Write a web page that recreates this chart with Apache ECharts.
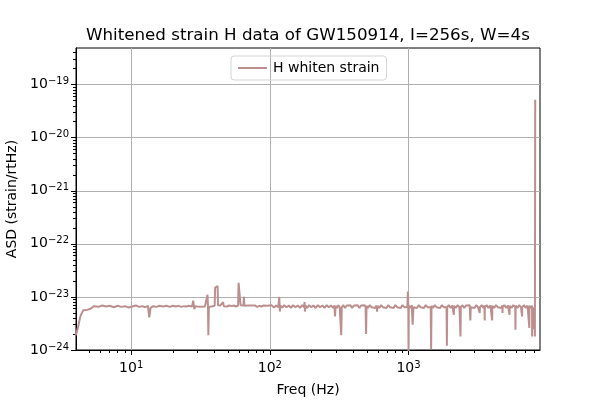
<!DOCTYPE html>
<html>
<head>
<meta charset="utf-8">
<script src="https://cdn.jsdelivr.net/npm/echarts@6/dist/echarts.min.js"></script>
<style>
  html, body { margin: 0; padding: 0; background: #fff; }
  #main { width: 600px; height: 400px; }
</style>
</head>
<body>
<div id="main"></div>
<script>
// frequency (Hz) and whitened ASD in units of 1e-24 strain/rtHz
var freq = [
  4, 4.15, 4.3, 4.5, 4.8, 5.1, 5.4, 5.8, 6.2, 6.6, 7.0, 7.5, 8.0, 8.5, 9.0, 9.6,
  10.2, 10.8, 11.4, 12, 12.6, 13.2, 13.5, 13.8, 14.4, 15.2, 16, 17, 18, 19, 20,
  21, 22, 23, 24, 25, 26, 27.5, 28, 28.5, 29, 30,
  31, 32, 33, 34, 35, 35.5, 35.8, 36, 36.3, 37, 38, 39, 40, 40.3, 41.5, 42, 42.3,
  43, 44, 45, 46, 46.5, 47.5, 49, 51, 53, 55, 57, 59, 59.5, 60.5, 61, 61.5,
  63, 64.5, 65, 65.5, 67, 69, 71, 73, 75, 78, 81, 84, 87, 90, 93, 96, 99,
  103, 107, 111, 115, 117, 118, 119, 123, 127, 132, 137, 142, 147, 153, 159, 165,
  171, 176, 178, 179, 181, 186, 192, 199, 206, 214, 222, 230, 239, 248, 257, 266,
  276, 286, 292, 295, 298,
  305, 312, 319, 324, 327, 330, 338, 348, 358, 369, 380, 392, 404, 416, 429, 442,
  455, 468, 482, 490, 494, 498, 510, 525, 541, 557, 573, 588, 593, 598, 615, 634,
  653, 673, 693, 714, 735, 757, 780, 803, 827, 852, 878, 904, 931, 959, 980, 990,
  996, 1000, 1004,
  1030, 1055, 1070, 1085, 1115, 1150, 1185, 1220, 1255, 1290, 1330, 1370, 1410, 1445, 1455, 1465,
  1500, 1545, 1590, 1640, 1690, 1740, 1790, 1845, 1880, 1890, 1900, 1950, 2010, 2070, 2110, 2120,
  2130, 2190, 2260, 2330, 2360, 2370, 2380, 2450, 2520, 2600, 2680, 2760, 2790, 2810, 2900, 2990,
  3080, 3170, 3250, 3260, 3270, 3370, 3470, 3530, 3540, 3550, 3660, 3770, 3890, 4000, 4010, 4020,
  4140, 4270, 4400, 4530, 4660, 4750, 4760, 4770, 4910, 5060, 5210, 5340, 5350, 5360, 5520, 5690,
  5880, 5900, 5920, 6100, 6280, 6470, 6580, 6590, 6600, 6800, 7000, 7210, 7420, 7430, 7440, 7660,
  7770, 7780, 7790, 7950, 8000, 8050, 8150, 8192
];
var asd = [
  1.9, 2.8, 4.3, 5.6, 5.7, 6.0, 6.7, 6.5, 6.9, 6.6, 6.8, 6.4, 6.8, 6.5, 6.7, 6.3,
  6.6, 6.9, 6.5, 6.7, 6.4, 6.8, 4.1, 6.2, 6.7, 6.5, 6.8, 6.6, 6.8, 6.5, 6.8,
  6.6, 6.8, 6.5, 6.7, 6.6, 6.8, 6.6, 8.5, 5.9, 6.7, 6.6,
  6.8, 6.5, 6.9, 6.6, 6.8, 11, 6.5, 1.9, 6.5, 6.9, 6.6, 7.0, 6.8, 15, 15.5, 16, 7.0,
  6.7, 6.9, 6.6, 8.0, 6.7, 6.9, 6.6, 6.9, 6.7, 6.9, 6.6, 6.9, 18.5, 18.8, 18, 7.0,
  6.7, 6.9, 10, 6.8, 6.6, 6.9, 6.6, 6.9, 6.7, 6.9, 6.5, 6.8, 6.6, 6.9, 6.6, 6.8, 6.5,
  7.0, 6.3, 6.9, 6.4, 10, 5.3, 6.9, 6.3, 7.0, 6.4, 6.9, 6.2, 7.0, 6.4, 6.9, 6.2,
  7.0, 6.4, 8.0, 5.3, 6.9, 6.2, 7.0, 6.4, 6.9, 6.2, 7.0, 6.4, 6.9, 6.2, 7.0, 6.4,
  6.9, 6.2, 6.9, 4.3, 6.8,
  6.2, 7.0, 6.4, 6.9, 1.9, 6.4, 7.0, 6.2, 6.9, 6.4, 7.0, 6.2, 6.9, 6.4, 7.0, 6.2,
  6.9, 6.4, 7.0, 6.4, 2.0, 6.8, 6.2, 7.0, 6.4, 6.9, 6.2, 6.9, 5.3, 6.8, 6.2, 7.0,
  6.4, 6.9, 6.2, 7.0, 6.4, 6.9, 6.2, 7.0, 6.4, 6.9, 6.2, 7.0, 6.4, 6.9, 6.4, 12.7,
  6.9, 0.8, 6.8,
  6.2, 7.0, 3.0, 6.4, 6.9, 6.2, 7.0, 6.4, 6.9, 6.2, 7.0, 6.4, 6.9, 6.4, 1.05, 6.8,
  6.2, 7.0, 6.4, 6.9, 6.2, 7.0, 6.4, 6.9, 6.4, 1.2, 6.4, 7.0, 6.2, 6.9, 6.4, 4.6,
  6.8, 6.2, 7.0, 6.4, 6.9, 1.8, 6.4, 7.0, 6.2, 6.9, 6.4, 7.0, 3.6, 6.4, 6.9, 6.2,
  7.0, 6.4, 6.9, 5.0, 6.4, 7.0, 6.2, 6.9, 3.6, 6.4, 7.0, 6.2, 6.9, 6.4, 3.6, 6.8,
  6.2, 7.0, 6.4, 6.9, 6.2, 6.9, 5.0, 6.4, 7.0, 6.2, 6.9, 6.4, 4.6, 6.8, 6.2, 7.0,
  6.4, 2.4, 6.9, 6.2, 7.0, 6.4, 6.9, 4.3, 6.4, 7.0, 6.2, 6.9, 6.4, 2.6, 6.8, 6.2,
  6.9, 1.8, 6.4, 6.9, 2.5, 6.4, 1.8, 52000
];
var UNIT = 1e-24;

var xMajor = [10, 100, 1000];
var xMinor = [5, 6, 7, 8, 9, 20, 30, 40, 50, 60, 70, 80, 90,
  200, 300, 400, 500, 600, 700, 800, 900, 2000, 3000, 4000, 5000, 6000, 7000, 8000];
var yMajor = [1e-24, 1e-23, 1e-22, 1e-21, 1e-20, 1e-19];
var yMinor = [];
[-24, -23, -22, -21, -20, -19].forEach(function (e) {
  for (var k = 2; k <= 9; k++) {
    var v = k * Math.pow(10, e);
    if (v < 4.9e-19) yMinor.push(v);
  }
});

var font = 'DejaVu Sans';
var X_MIN = 4, X_MAX = 8870, Y_MIN = 1e-24, Y_MAX = 4.9e-19;

function powLabel(v) {
  var e = Math.round(Math.log10(v));
  return '{b|10}{e|' + String(e).replace('-', '\u2212') + '}';
}
var powRich = {
  b: { fontFamily: font, fontSize: 14, color: '#000' },
  e: { fontFamily: font, fontSize: 10, color: '#000', padding: [0, 0, 6, 0] }
};

var points = freq.map(function (f, i) { return [f, asd[i] * UNIT]; });

var chart = echarts.init(document.getElementById('main'));
chart.setOption({
  animation: false,
  textStyle: { fontFamily: font },
  title: {
    text: 'Whitened strain H data of GW150914, I=256s, W=4s',
    left: 86,
    top: 27,
    padding: 0,
    textStyle: { fontFamily: font, fontSize: 16.7, fontWeight: 'normal', color: '#000' }
  },
  legend: {
    left: 231,
    top: 56,
    padding: [5, 7, 5, 7],
    borderColor: '#d5d5d5',
    borderWidth: 1,
    borderRadius: 3,
    icon: 'rect',
    itemWidth: 29,
    itemHeight: 2,
    itemGap: 8,
    textStyle: { fontFamily: font, fontSize: 14, color: '#000', padding: [0, 0, 0, 1] }
  },
  grid: {
    left: 76, right: 60, top: 48, bottom: 50,
    containLabel: false,
    outerBoundsMode: 'none',
    show: true, borderColor: '#000', borderWidth: 1, backgroundColor: 'transparent'
  },
  xAxis: [{
    type: 'log', logBase: 10, min: X_MIN, max: X_MAX,
    name: 'Freq (Hz)', nameLocation: 'middle', nameGap: 33,
    nameTextStyle: { fontFamily: font, fontSize: 14, color: '#000' },
    axisLine: { show: true, onZero: false, lineStyle: { color: '#000', width: 1 } },
    axisTick: { show: true, length: 5, customValues: xMajor, lineStyle: { color: '#000', width: 1 } },
    axisLabel: { customValues: xMajor, margin: 10, formatter: powLabel, rich: powRich },
    splitLine: { show: true, lineStyle: { color: '#b0b0b0', width: 1 } },
    minorTick: { show: false }
  }, {
    type: 'log', logBase: 10, min: X_MIN, max: X_MAX, position: 'bottom',
    axisLine: { show: false },
    axisTick: { show: true, length: 3, customValues: xMinor, lineStyle: { color: '#000', width: 1 } },
    axisLabel: { show: false },
    splitLine: { show: false }
  }],
  yAxis: [{
    type: 'log', logBase: 10, min: Y_MIN, max: Y_MAX,
    name: 'ASD (strain/rtHz)', nameLocation: 'middle', nameGap: 53,
    nameTextStyle: { fontFamily: font, fontSize: 14, color: '#000' },
    axisLine: { show: true, onZero: false, lineStyle: { color: '#000', width: 1 } },
    axisTick: { show: true, length: 5, customValues: yMajor, lineStyle: { color: '#000', width: 1 } },
    axisLabel: { customValues: yMajor, margin: 7, formatter: powLabel, rich: powRich },
    splitLine: { show: true, lineStyle: { color: '#b0b0b0', width: 1 } },
    minorTick: { show: false }
  }, {
    type: 'log', logBase: 10, min: Y_MIN, max: Y_MAX, position: 'left',
    axisLine: { show: false },
    axisTick: { show: true, length: 3, customValues: yMinor, lineStyle: { color: '#000', width: 1 } },
    axisLabel: { show: false },
    splitLine: { show: false }
  }],
  series: [{
    name: 'H whiten strain',
    type: 'line',
    xAxisIndex: 0,
    yAxisIndex: 0,
    data: points,
    symbol: 'none',
    clip: true,
    lineStyle: { color: '#bc8f8f', width: 2 },
    itemStyle: { color: '#bc8f8f' }
  }]
});
</script>
</body>
</html>
